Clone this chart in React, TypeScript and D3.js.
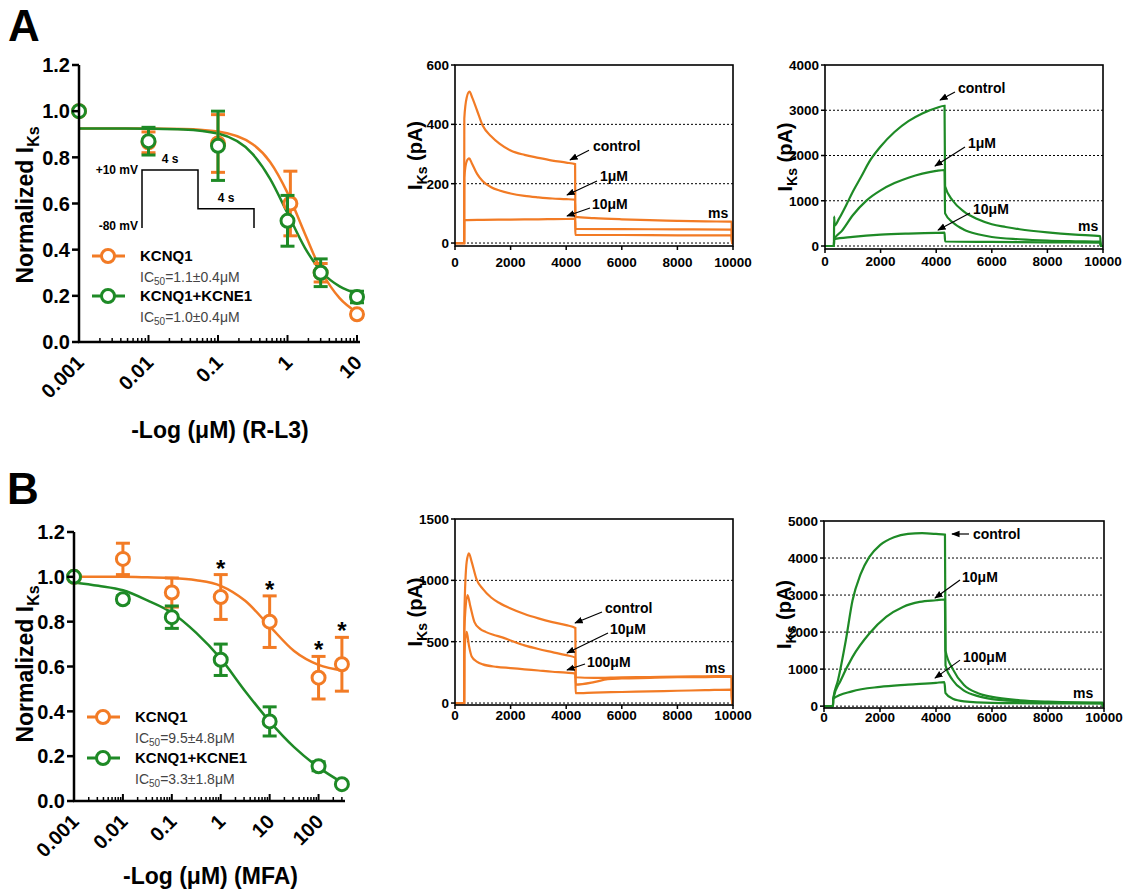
import React from 'react';
import * as d3 from 'd3';

const ORANGE = '#F27B25';
const GREEN = '#1E8A26';
const FONT = 'Arial, "Liberation Sans", Helvetica, sans-serif';

// ---- A: dose-response, R-L3
const concA_Q1 = [0.001, 0.01, 0.1, 1.1, 3, 10];
const meanA_Q1 = [1.0, 0.865, 0.86, 0.6, 0.3, 0.12];
const errA_Q1 = [0, 0.045, 0.125, 0.14, 0.04, 0.012];
const concA_E1 = [0.001, 0.01, 0.1, 1, 3, 10];
const meanA_E1 = [1.0, 0.87, 0.85, 0.525, 0.3, 0.195];
const errA_E1 = [0, 0.06, 0.15, 0.11, 0.06, 0.025];
const fitConcA = [0.001, 0.00316, 0.01, 0.0316, 0.1, 0.316, 0.562, 1, 1.78, 3.16, 5.62, 10];
const fitA_Q1 = [0.925, 0.925, 0.925, 0.923, 0.912, 0.857, 0.78, 0.646, 0.469, 0.3, 0.19, 0.128];
const fitA_E1 = [0.925, 0.925, 0.924, 0.921, 0.903, 0.814, 0.707, 0.558, 0.408, 0.301, 0.241, 0.21];
const ticksA = ['0.001', '0.01', '0.1', '1', '10'];

// ---- B: dose-response, MFA
const concB = [0.001, 0.01, 0.1, 1, 10, 100, 300];
const meanB_Q1 = [1.0, 1.08, 0.93, 0.91, 0.8, 0.55, 0.61];
const errB_Q1 = [0, 0.07, 0.065, 0.1, 0.115, 0.095, 0.12];
const meanB_E1 = [1.0, 0.9, 0.82, 0.63, 0.355, 0.155, 0.075];
const errB_E1 = [0, 0.015, 0.05, 0.07, 0.065, 0.02, 0];
const starsB = [1, 10, 100, 300];
const fitConcB = [0.001, 0.00316, 0.01, 0.0316, 0.1, 0.316, 1, 3.16, 10, 31.6, 100, 316];
const fitB_Q1 = [1.0, 1.0, 1.0, 0.998, 0.995, 0.985, 0.96, 0.893, 0.78, 0.669, 0.607, 0.582];
const fitB_E1 = [0.975, 0.96, 0.94, 0.895, 0.84, 0.75, 0.635, 0.49, 0.355, 0.24, 0.15, 0.08];
const ticksB = ['0.001', '0.01', '0.1', '1', '10', '100'];

const yTicksNorm = [0, 0.2, 0.4, 0.6, 0.8, 1.0, 1.2];

// ---- current traces [ms, pA]
type Pt = [number, number];
const traceA1_ctrl: Pt[] = [[0, 0], [330, 0], [335, 420], [420, 490], [520, 510], [620, 490], [800, 445], [1000, 395], [1300, 360], [1600, 335], [2000, 312], [2500, 297], [3000, 287], [3500, 278], [4000, 271], [4320, 266], [4330, 88], [5000, 84], [6000, 80], [7000, 77], [8000, 75], [9000, 73], [9950, 72], [9960, 0], [10000, 0]];
const traceA1_1uM: Pt[] = [[0, 0], [330, 0], [335, 220], [420, 275], [510, 285], [600, 270], [800, 232], [1000, 208], [1300, 188], [1600, 177], [2000, 167], [2500, 159], [3000, 154], [3500, 150], [4000, 148], [4320, 146], [4330, 48], [6000, 47], [8000, 46], [9950, 45], [9960, 0], [10000, 0]];
const traceA1_10uM: Pt[] = [[0, 0], [330, 0], [335, 77], [1000, 78], [2000, 79], [3000, 80], [4000, 81], [4320, 82], [4330, 27], [6000, 27], [8000, 26], [9950, 26], [9960, 0], [10000, 0]];

const traceA2_ctrl: Pt[] = [[0, 0], [320, 0], [330, 650], [345, 450], [500, 600], [800, 950], [1000, 1200], [1300, 1530], [1600, 1870], [2000, 2200], [2500, 2520], [3000, 2760], [3500, 2930], [4000, 3050], [4300, 3100], [4320, 1320], [4600, 1000], [5000, 760], [5500, 590], [6000, 480], [6500, 420], [7000, 370], [8000, 300], [9000, 250], [9900, 220], [9920, 0], [10000, 0]];
const traceA2_1uM: Pt[] = [[0, 0], [320, 0], [330, 150], [600, 330], [1000, 680], [1500, 1010], [2000, 1230], [2500, 1390], [3000, 1510], [3500, 1600], [4000, 1660], [4300, 1680], [4320, 720], [4600, 520], [5000, 360], [5500, 260], [6000, 200], [7000, 150], [8000, 120], [9000, 105], [9900, 95], [9920, 0], [10000, 0]];
const traceA2_10uM: Pt[] = [[0, 0], [320, 0], [330, 150], [1000, 200], [2000, 250], [3000, 275], [4000, 290], [4300, 295], [4320, 100], [6000, 90], [8000, 80], [9900, 75], [9920, 0], [10000, 0]];

const traceB1_ctrl: Pt[] = [[0, 0], [330, 0], [335, 700], [420, 1150], [500, 1220], [600, 1150], [780, 1005], [1000, 930], [1300, 860], [1600, 815], [2000, 770], [2500, 725], [3000, 690], [3500, 660], [4000, 635], [4330, 612], [4340, 210], [5000, 205], [6000, 210], [7000, 212], [8000, 215], [9000, 218], [9950, 220], [9960, 0], [10000, 0]];
const traceB1_10uM: Pt[] = [[0, 0], [330, 0], [335, 600], [450, 880], [550, 790], [700, 660], [900, 605], [1100, 580], [1400, 555], [1700, 535], [2000, 510], [2500, 470], [3000, 440], [3500, 415], [4000, 390], [4330, 370], [4340, 150], [5000, 170], [5500, 195], [6000, 200], [7000, 205], [8000, 210], [9000, 212], [9950, 215], [9960, 0], [10000, 0]];
const traceB1_100uM: Pt[] = [[0, 0], [330, 0], [335, 400], [420, 580], [500, 470], [600, 380], [800, 335], [1000, 315], [1500, 295], [2000, 285], [2500, 275], [3000, 265], [3500, 255], [4000, 248], [4330, 240], [4340, 80], [5000, 85], [6000, 90], [7000, 95], [8000, 100], [9000, 105], [9950, 110], [9960, 0], [10000, 0]];

const traceB2_ctrl: Pt[] = [[0, 0], [320, 0], [330, 200], [500, 700], [780, 1780], [1020, 2860], [1300, 3550], [1620, 4030], [2000, 4350], [2500, 4560], [3000, 4650], [3500, 4670], [4000, 4650], [4320, 4630], [4340, 1500], [4600, 1000], [5000, 570], [5500, 350], [6000, 250], [7000, 160], [8000, 120], [9000, 100], [9950, 95], [9960, 0], [10000, 0]];
const traceB2_10uM: Pt[] = [[0, 0], [320, 0], [330, 200], [600, 700], [1020, 1330], [1620, 1960], [2220, 2410], [2820, 2680], [3420, 2815], [4000, 2860], [4320, 2880], [4340, 1100], [4600, 700], [5000, 420], [5500, 270], [6000, 190], [7000, 130], [8000, 100], [9000, 90], [9950, 85], [9960, 0], [10000, 0]];
const traceB2_100uM: Pt[] = [[0, 0], [320, 0], [330, 200], [1000, 400], [2000, 520], [3000, 580], [4000, 630], [4300, 650], [4340, 350], [4600, 200], [5000, 130], [6000, 90], [8000, 75], [9950, 70], [9960, 0], [10000, 0]];

const timeTicks = [0, 2000, 4000, 6000, 8000, 10000];

// voltage protocol inset: [s, mV]
const protocolSteps: Pt[] = [[0, -80], [0, 10], [4, 10], [4, -50], [8, -50], [8, -80]];

type Series = { conc: number[]; mean: number[]; err: number[]; fitX: number[]; fitY: number[]; color: string };

function DoseResponse(props: {
  x0: number; x1: number; yBottom: number; yTop: number; xMax: number; axisEnd: number;
  ticks: string[]; series: Series[]; stars?: number[]; starSeries?: Series;
  title: string; labelY: number; titleY: number;
  legend: { x: number; y: number; name: string; ic: string; color: string }[];
  children?: React.ReactNode;
}) {
  const { x0, x1, yBottom, yTop } = props;
  const x = d3.scaleLog().domain([0.001, props.xMax]).range([x0, x1]);
  const y = d3.scaleLinear().domain([0, 1.2]).range([yBottom, yTop]);
  const line = d3.line<[number, number]>().x(d => x(d[0])).y(d => y(d[1])).curve(d3.curveMonotoneX);
  const majors = props.ticks.map(Number);
  const minors: number[] = [];
  majors.forEach(m => { for (let k = 2; k <= 9; k++) if (k * m <= props.xMax * 1.02) minors.push(k * m); });
  return (
    <g fontFamily={FONT}>
      {props.children}
      {props.series.map((s, i) => (
        <path key={'f' + i} d={line(s.fitX.map((v, j) => [v, s.fitY[j]] as [number, number])) || ''} fill="none" stroke={s.color} strokeWidth={2.5} />
      ))}
      {props.series.map((s, i) => (
        <g key={'p' + i} stroke={s.color} strokeWidth={3}>
          {s.conc.map((c, j) => (
            <g key={j}>
              {s.err[j] > 0 && (
                <g>
                  <line x1={x(c)} x2={x(c)} y1={y(s.mean[j] - s.err[j])} y2={y(s.mean[j] + s.err[j])} />
                  <line x1={x(c) - 7} x2={x(c) + 7} y1={y(s.mean[j] + s.err[j])} y2={y(s.mean[j] + s.err[j])} />
                  <line x1={x(c) - 7} x2={x(c) + 7} y1={y(s.mean[j] - s.err[j])} y2={y(s.mean[j] - s.err[j])} />
                </g>
              )}
              <circle cx={x(c)} cy={y(s.mean[j])} r={6.5} fill="white" />
            </g>
          ))}
        </g>
      ))}
      {props.stars && props.starSeries && props.stars.map((c, i) => {
        const j = props.starSeries!.conc.indexOf(c);
        return (
          <text key={'s' + i} x={x(c)} y={y(props.starSeries!.mean[j] + props.starSeries!.err[j]) + 2} textAnchor="middle" fontSize={24} fontWeight="bold">*</text>
        );
      })}
      {/* axes */}
      <line x1={x0} x2={x0} y1={yBottom} y2={yTop} stroke="#000" strokeWidth={2.5} />
      <line x1={x0 - 1} x2={props.axisEnd} y1={yBottom} y2={yBottom} stroke="#000" strokeWidth={2.5} />
      {yTicksNorm.map(t => (
        <g key={t}>
          <line x1={x0 - 7} x2={x0} y1={y(t)} y2={y(t)} stroke="#000" strokeWidth={2.5} />
          <text x={x0 - 9} y={y(t)} dy="0.36em" textAnchor="end" fontSize={20} fontWeight="bold">{d3.format('.1f')(t)}</text>
        </g>
      ))}
      {majors.slice(1).map(t => (
        <line key={t} x1={x(t)} x2={x(t)} y1={yBottom} y2={yBottom - 7} stroke="#000" strokeWidth={2} />
      ))}
      {minors.map(t => (
        <line key={'m' + t} x1={x(t)} x2={x(t)} y1={yBottom} y2={yBottom - 4} stroke="#000" strokeWidth={1.5} />
      ))}
      {props.ticks.map(t => (
        <text key={'l' + t} transform={`translate(${x(Number(t)) + 6},${yBottom + 22}) rotate(-45)`} textAnchor="end" fontSize={20} fontWeight="bold">{t}</text>
      ))}
      <text transform={`translate(33,${props.labelY}) rotate(-90)`} textAnchor="middle" fontSize={23} fontWeight="bold">
        Normalized I<tspan fontSize={16} dy={6}>Ks</tspan>
      </text>
      <text x={(x0 + x1) / 2 + 2} y={props.titleY} textAnchor="middle" fontSize={23} fontWeight="bold">{props.title}</text>
      {props.legend.map((l, i) => (
        <g key={'lg' + i}>
          <line x1={l.x} x2={l.x + 33} y1={l.y} y2={l.y} stroke={l.color} strokeWidth={3} />
          <circle cx={l.x + 16} cy={l.y} r={6.5} fill="white" stroke={l.color} strokeWidth={3} />
          <text x={l.x + 48} y={l.y + 5} fontSize={15} fontWeight="bold">{l.name}</text>
          <text x={l.x + 48} y={l.y + 26} fontSize={14} fill="#444">
            IC<tspan fontSize={10} dy={3}>50</tspan><tspan dy={-3}>{l.ic}</tspan>
          </text>
        </g>
      ))}
    </g>
  );
}

type Annot = { text: string; tx: number; ty: number; a: [number, number, number, number] | null };

function TracePanel(props: {
  x0: number; x1: number; yTop: number; yBottom: number; yMin: number; yMax: number;
  yTicks: number[]; grid: number[]; traces: Pt[][]; color: string; labelOffset: number; annots: Annot[];
}) {
  const { x0, x1, yTop, yBottom } = props;
  const x = d3.scaleLinear().domain([0, 10000]).range([x0, x1]);
  const y = d3.scaleLinear().domain([props.yMin, props.yMax]).range([yBottom, yTop]);
  const line = d3.line<Pt>().x(d => x(d[0])).y(d => y(d[1])).curve(d3.curveMonotoneX);
  return (
    <g fontFamily={FONT}>
      {props.grid.map(g => (
        <line key={g} x1={x0} x2={x1} y1={y(g)} y2={y(g)} stroke="#000" strokeWidth={1} strokeDasharray="2,2" />
      ))}
      {props.traces.map((t, i) => (
        <path key={i} d={line(t) || ''} fill="none" stroke={props.color} strokeWidth={2.2} />
      ))}
      <rect x={x0} y={yTop} width={x1 - x0} height={yBottom - yTop} fill="none" stroke="#000" strokeWidth={1.6} />
      {props.yTicks.map(t => (
        <g key={t}>
          <line x1={x0 - 4} x2={x0} y1={y(t)} y2={y(t)} stroke="#000" strokeWidth={1.5} />
          <text x={x0 - 6} y={y(t)} dy="0.36em" textAnchor="end" fontSize={13.5} fontWeight="bold">{t}</text>
        </g>
      ))}
      {timeTicks.map(t => (
        <g key={t}>
          <line x1={x(t)} x2={x(t)} y1={yBottom} y2={yBottom + 4} stroke="#000" strokeWidth={1.5} />
          <text x={x(t)} y={yBottom + props.labelOffset} textAnchor="middle" fontSize={13.5} fontWeight="bold">{t}</text>
        </g>
      ))}
      <text transform={`translate(${x0 - 33},${(yTop + yBottom) / 2}) rotate(-90)`} textAnchor="middle" fontSize={20} fontWeight="bold">
        I<tspan fontSize={14} dy={5}>Ks</tspan><tspan dy={-5}> (pA)</tspan>
      </text>
      {props.annots.map((a, i) => (
        <g key={i}>
          <text x={x(a.tx)} y={y(a.ty)} dy="0.36em" fontSize={14} fontWeight="bold">{a.text}</text>
          {a.a && (
            <line x1={x(a.a[0])} y1={y(a.a[1])} x2={x(a.a[2])} y2={y(a.a[3])} stroke="#000" strokeWidth={1.2} markerEnd="url(#arrow)" />
          )}
        </g>
      ))}
    </g>
  );
}

function Protocol() {
  const t = d3.scaleLinear().domain([0, 8]).range([142, 254]);
  const v = d3.scaleLinear().domain([-80, 10]).range([228, 170]);
  const line = d3.line<Pt>().x(d => t(d[0])).y(d => v(d[1]));
  return (
    <g fontFamily={FONT} fontWeight="bold" fontSize={12}>
      <path d={line(protocolSteps) || ''} fill="none" stroke="#000" strokeWidth={1.5} />
      <text x={t(0) - 4} y={v(10)} dy="0.36em" textAnchor="end">+10 mV</text>
      <text x={t(0) - 4} y={v(-80) - 2} dy="0.36em" textAnchor="end">-80 mV</text>
      <text x={t(2)} y={v(10) - 7} textAnchor="middle">4 s</text>
      <text x={t(6)} y={v(-50) - 7} textAnchor="middle">4 s</text>
    </g>
  );
}

export default function App() {
  const sA: Series[] = [
    { conc: concA_Q1, mean: meanA_Q1, err: errA_Q1, fitX: fitConcA, fitY: fitA_Q1, color: ORANGE },
    { conc: concA_E1, mean: meanA_E1, err: errA_E1, fitX: fitConcA, fitY: fitA_E1, color: GREEN },
  ];
  const sB: Series[] = [
    { conc: concB, mean: meanB_Q1, err: errB_Q1, fitX: fitConcB, fitY: fitB_Q1, color: ORANGE },
    { conc: concB, mean: meanB_E1, err: errB_E1, fitX: fitConcB, fitY: fitB_E1, color: GREEN },
  ];
  return (
    <svg width={1126} height={895} style={{ position: 'absolute', left: 0, top: 0, background: '#fff' }}>
      <defs>
        <marker id="arrow" viewBox="0 0 10 10" refX={9} refY={5} markerWidth={7} markerHeight={7} orient="auto">
          <path d="M0,1 L10,5 L0,9 z" fill="#000" />
        </marker>
      </defs>
      <text x={8} y={41} fontFamily={FONT} fontSize={44} fontWeight="bold">A</text>
      <text x={7} y={504} fontFamily={FONT} fontSize={44} fontWeight="bold">B</text>

      <DoseResponse x0={79} x1={357} yBottom={342} yTop={65} xMax={10} axisEnd={360}
        ticks={ticksA} series={sA} title="-Log (μM) (R-L3)" labelY={205} titleY={438}
        legend={[
          { x: 92, y: 256, name: 'KCNQ1', ic: '=1.1±0.4μM', color: ORANGE },
          { x: 92, y: 296, name: 'KCNQ1+KCNE1', ic: '=1.0±0.4μM', color: GREEN },
        ]}>
        <Protocol />
      </DoseResponse>

      <DoseResponse x0={74} x1={343} yBottom={801} yTop={532} xMax={316} axisEnd={345}
        ticks={ticksB} series={sB} stars={starsB} starSeries={sB[0]} title="-Log (μM) (MFA)" labelY={664} titleY={884}
        legend={[
          { x: 87, y: 717, name: 'KCNQ1', ic: '=9.5±4.8μM', color: ORANGE },
          { x: 87, y: 758, name: 'KCNQ1+KCNE1', ic: '=3.3±1.8μM', color: GREEN },
        ]} />

      <TracePanel x0={455} x1={733} yTop={65} yBottom={246} yMin={-10} yMax={600}
        yTicks={[0, 200, 400, 600]} grid={[0, 200, 400]} traces={[traceA1_ctrl, traceA1_1uM, traceA1_10uM]} color={ORANGE} labelOffset={21}
        annots={[
          { text: 'control', tx: 4964, ty: 327, a: [4820, 313, 4137, 280] },
          { text: '1μM', tx: 5216, ty: 226, a: [5108, 209, 4029, 162] },
          { text: '10μM', tx: 4928, ty: 131, a: [4856, 118, 4029, 91] },
          { text: 'ms', tx: 9100, ty: 101, a: null },
        ]} />

      <TracePanel x0={825} x1={1103} yTop={65} yBottom={249} yMin={-66} yMax={4000}
        yTicks={[0, 1000, 2000, 3000, 4000]} grid={[0, 1000, 2000, 3000]} traces={[traceA2_ctrl, traceA2_1uM, traceA2_10uM]} color={GREEN} labelOffset={17}
        annots={[
          { text: 'control', tx: 4784, ty: 3492, a: [4676, 3403, 4137, 3227] },
          { text: '1μM', tx: 5144, ty: 2276, a: [5036, 2188, 3957, 1768] },
          { text: '10μM', tx: 5324, ty: 818, a: [5216, 729, 4065, 354] },
          { text: 'ms', tx: 9100, ty: 442, a: null },
        ]} />

      <TracePanel x0={455} x1={733} yTop={519} yBottom={705} yMin={-16} yMax={1500}
        yTicks={[0, 500, 1000, 1500]} grid={[0, 500, 1000]} traces={[traceB1_ctrl, traceB1_10uM, traceB1_100uM]} color={ORANGE} labelOffset={15}
        annots={[
          { text: 'control', tx: 5396, ty: 774, a: [5288, 742, 4317, 652] },
          { text: '10μM', tx: 5576, ty: 603, a: [5504, 571, 4029, 408] },
          { text: '100μM', tx: 4748, ty: 334, a: [4676, 318, 4029, 269] },
          { text: 'ms', tx: 8993, ty: 285, a: null },
        ]} />

      <TracePanel x0={824} x1={1104} yTop={521} yBottom={708} yMin={-50} yMax={5000}
        yTicks={[0, 1000, 2000, 3000, 4000, 5000]} grid={[0, 1000, 2000, 3000, 4000]} traces={[traceB2_ctrl, traceB2_10uM, traceB2_100uM]} color={GREEN} labelOffset={14}
        annots={[
          { text: 'control', tx: 5321, ty: 4649, a: [5178, 4649, 4571, 4649] },
          { text: '10μM', tx: 4929, ty: 3486, a: [4857, 3405, 3964, 2919] },
          { text: '100μM', tx: 4964, ty: 1324, a: [4857, 1243, 3964, 757] },
          { text: 'ms', tx: 8893, ty: 351, a: null },
        ]} />
    </svg>
  );
}
